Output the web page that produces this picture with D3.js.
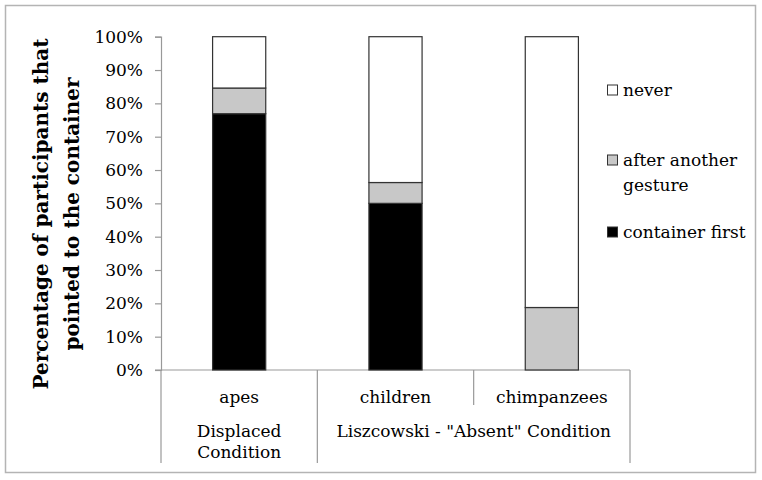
<!DOCTYPE html>
<html>
<head>
<meta charset="utf-8">
<script src="https://cdn.jsdelivr.net/npm/d3@7"></script>
<style>
  html, body { margin: 0; padding: 0; background: #fff; }
  svg { display: block; }
  text { font-family: "DejaVu Serif", serif; fill: #000; }
</style>
</head>
<body>
<svg id="chart" width="762" height="480"></svg>
<script>
// ---- data ----
const categories = ["apes", "children", "chimpanzees"];
const groups = [
  { label: ["Displaced", "Condition"], members: ["apes"] },
  { label: ['Liszcowski - "Absent" Condition'], members: ["children", "chimpanzees"] }
];
const seriesNames = ["container first", "after another gesture", "never"];
const containerFirst = [0.769, 0.50, 0.0];
const afterAnother   = [0.077, 0.0625, 0.1875];
const never          = [0.154, 0.4375, 0.8125];
const yTicks = [0, 0.1, 0.2, 0.3, 0.4, 0.5, 0.6, 0.7, 0.8, 0.9, 1.0];
const colors = ["#000000", "#c8c8c8", "#ffffff"];

// ---- layout ----
const svg = d3.select("#chart");
const W = 762, H = 480;
const plotLeft = 161, plotRight = 630, plotTop = 36.7, plotBottom = 370;

svg.append("rect").attr("x", 5.5).attr("y", 5.5).attr("width", 750).attr("height", 467)
  .attr("fill", "#fff").attr("stroke", "#b4b4b4").attr("stroke-width", 1.5);

const x = d3.scaleBand().domain(categories).range([plotLeft, plotRight])
  .paddingInner(0.66).paddingOuter(0.33);
const y = d3.scaleLinear().domain([0, 1]).range([plotBottom, plotTop]);

const table = categories.map((c, i) => ({
  cat: c,
  "container first": containerFirst[i],
  "after another gesture": afterAnother[i],
  "never": never[i]
}));
const stack = d3.stack().keys(seriesNames)(table);

// y axis
const yAxis = d3.axisLeft(y).tickValues(yTicks).tickFormat(d3.format(".0%")).tickSize(6).tickPadding(12);
const gy = svg.append("g").attr("transform", `translate(${plotLeft},0)`).call(yAxis);
gy.select(".domain").attr("stroke", "#999").attr("stroke-width", 1.2);
gy.selectAll(".tick line").attr("stroke", "#999").attr("stroke-width", 1.2);
gy.selectAll(".tick text").style("font-family", '"DejaVu Serif", serif').style("font-size", "17px").attr("fill", "#000");

// baseline
svg.append("line").attr("x1", plotLeft - 6).attr("x2", plotRight).attr("y1", plotBottom).attr("y2", plotBottom)
  .attr("stroke", "#999").attr("stroke-width", 1.2);

// bars
const step = x.step();
svg.append("g").selectAll("g").data(stack).join("g")
  .attr("fill", (d, i) => colors[i])
  .selectAll("rect").data(d => d.filter(s => s[1] - s[0] > 0)).join("rect")
  .attr("x", d => x(d.data.cat))
  .attr("width", x.bandwidth())
  .attr("y", d => y(d[1]))
  .attr("height", d => y(d[0]) - y(d[1]))
  .attr("stroke", "#333").attr("stroke-width", 1.2);

// category separators
const catEdges = categories.map(c => x(c) - x.bandwidth() * 0 - (step - x.bandwidth()) / 2);
const lowerBottom = 463, midBottom = 405;
categories.forEach((c, i) => {
  const left = x(c) - (step - x.bandwidth()) / 2;
  const isGroupStart = groups.some(g => g.members[0] === c);
  svg.append("line").attr("x1", left).attr("x2", left)
    .attr("y1", plotBottom).attr("y2", isGroupStart ? lowerBottom : midBottom)
    .attr("stroke", "#999").attr("stroke-width", 1.2);
});
svg.append("line").attr("x1", plotRight).attr("x2", plotRight).attr("y1", plotBottom).attr("y2", lowerBottom)
  .attr("stroke", "#999").attr("stroke-width", 1.2);

// category labels
svg.append("g").selectAll("text").data(categories).join("text")
  .attr("x", d => x(d) + x.bandwidth() / 2)
  .attr("y", 403)
  .attr("text-anchor", "middle")
  .style("font-size", "17px")
  .text(d => d);

// group labels
groups.forEach(g => {
  const first = g.members[0], last = g.members[g.members.length - 1];
  const cx = (x(first) + x(last) + x.bandwidth()) / 2;
  const t = svg.append("text").attr("text-anchor", "middle").style("font-size", "17px");
  g.label.forEach((l, j) => {
    t.append("tspan").attr("x", cx).attr("y", 437 + j * 21).text(l);
  });
});

// y title
const yt = svg.append("text").attr("transform", "translate(0,214) rotate(-90)")
  .attr("text-anchor", "middle").style("font-weight", "bold").style("font-size", "20px");
yt.append("tspan").attr("x", 0).attr("y", 48).text("Percentage of participants that");
yt.append("tspan").attr("x", 0).attr("y", 79).text("pointed to the container");

// legend
const legendItems = [
  { name: "never", color: colors[2], lines: ["never"], y: 90 },
  { name: "after another gesture", color: colors[1], lines: ["after another", "gesture"], y: 160 },
  { name: "container first", color: colors[0], lines: ["container first"], y: 232 }
];
const lg = svg.append("g");
legendItems.forEach(it => {
  lg.append("rect").attr("x", 607.5).attr("y", it.y - 5).attr("width", 10).attr("height", 10)
    .attr("fill", it.color).attr("stroke", "#333").attr("stroke-width", 1);
  const t = lg.append("text").style("font-size", "17px");
  it.lines.forEach((l, j) => {
    t.append("tspan").attr("x", 623).attr("y", it.y + 6 + j * 25).text(l);
  });
});
</script>
</body>
</html>
